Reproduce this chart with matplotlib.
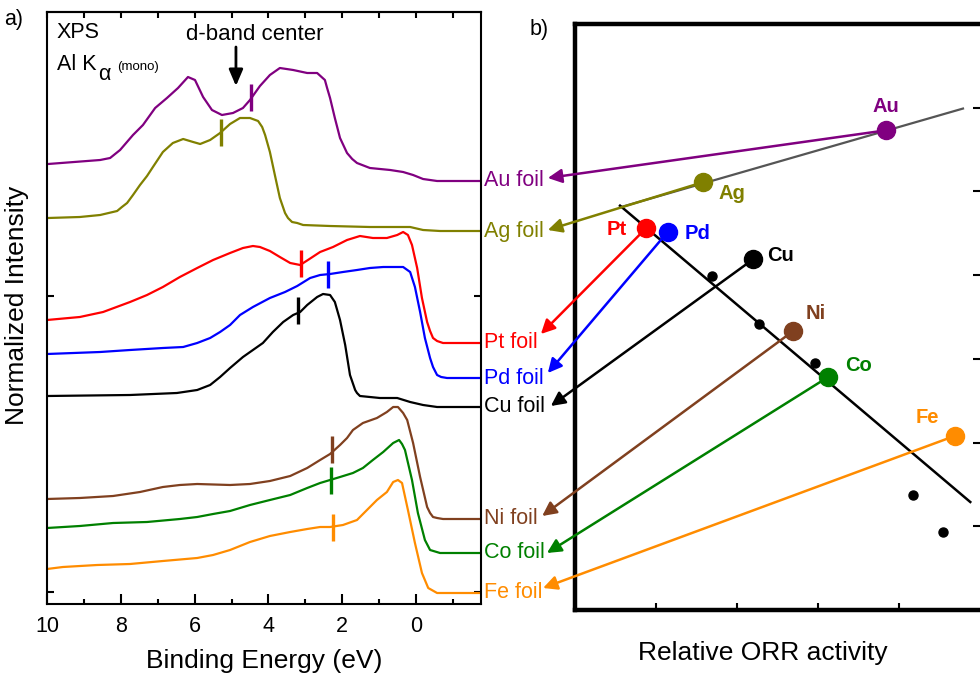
import matplotlib
matplotlib.use('Agg')
import matplotlib.pyplot as plt
from matplotlib.ticker import MultipleLocator
from matplotlib.transforms import blended_transform_factory

plt.rcParams['font.family'] = ['Liberation Sans', 'DejaVu Sans']

# ---- panel a: valence band spectra, binding energy (eV) vs offset intensity (a.u.)
au_e = [9.97, 8.56, 8.29, 8.02, 7.67, 7.40, 7.07, 6.75, 6.45, 6.18, 5.99, 5.77, 5.53, 5.26, 4.96, 4.69, 4.50,
        4.23, 3.96, 3.69, 3.33, 2.95, 2.68, 2.47, 2.41, 2.33, 2.20, 2.06, 1.87, 1.73, 1.60, 1.25, 0.70, 0.35,
        0.08, -0.19, -0.57, -1.76]
au_i = [440, 444, 446, 454, 469, 479, 496, 506, 516, 527, 524, 507, 494, 489, 491, 496, 504,
        518, 529, 536, 534, 531, 531, 524, 516, 506, 486, 466, 451, 445, 441, 436, 434, 432,
        429, 425, 423, 423]

ag_e = [9.97, 9.11, 8.56, 8.10, 7.97, 7.83, 7.67, 7.48, 7.29, 7.13, 6.86, 6.59, 6.31, 6.04, 5.85, 5.58, 5.31,
        5.04, 4.77, 4.50, 4.28, 4.17, 4.09, 3.96, 3.82, 3.69, 3.55, 3.47, 3.36, 3.22, 3.06, 2.33, 1.25, 0.51,
        0.16, -0.19, -0.65, -1.76]
ag_i = [386, 387, 389, 393, 397, 401, 409, 419, 428, 437, 452, 461, 465, 462, 460, 464, 471,
        480, 486, 486, 483, 477, 469, 452, 428, 406, 391, 386, 382, 381, 379, 378, 377, 377,
        377, 374, 373, 373]

pt_e = [10.00, 9.11, 8.48, 7.75, 7.29, 6.86, 6.40, 5.93, 5.50, 5.04, 4.69, 4.42, 4.23, 3.96, 3.69, 3.41, 3.14,
        2.93, 2.60, 2.25, 1.87, 1.52, 1.17, 0.79, 0.51, 0.35, 0.22, 0.11, -0.03, -0.16, -0.30, -0.38, -0.46,
        -0.57, -0.73, -1.76]
pt_i = [284, 287, 292, 302, 309, 317, 327, 336, 344, 351, 356, 358, 357, 353, 347, 341, 339,
        344, 352, 357, 364, 368, 366, 366, 369, 372, 369, 359, 336, 306, 282, 273, 266,
        263, 261, 261]

pd_e = [10.00, 8.56, 7.75, 6.86, 6.31, 5.93, 5.58, 5.31, 5.04, 4.77, 4.42, 3.96, 3.55, 3.22, 2.87, 2.60,
        2.33, 1.98, 1.60, 1.25, 0.89, 0.51, 0.35, 0.16, 0.03, -0.11, -0.24, -0.38, -0.46, -0.57, -0.68,
        -0.84, -1.76]
pd_i = [250, 252, 254, 256, 257, 261, 266, 272, 279, 289, 297, 306, 312, 318, 326, 329,
        330, 332, 334, 336, 337, 337, 337, 332, 317, 292, 266, 246, 237, 229, 227,
        226, 226]

cu_e = [10.00, 7.75, 6.48, 5.93, 5.58, 5.31, 5.04, 4.69, 4.42, 4.15, 3.88, 3.60, 3.33, 3.14, 2.95, 2.68,
        2.52, 2.33, 2.20, 2.06, 1.92, 1.79, 1.65, 1.60, 1.52, 0.98, 0.51, 0.16, -0.19, -0.57, -1.76]
cu_i = [208, 209, 211, 214, 219, 227, 236, 247, 254, 261, 272, 282, 289, 292, 299, 307,
        310, 309, 302, 284, 259, 229, 214, 211, 208, 206, 206, 202, 199, 197, 197]

ni_e = [10.00, 9.11, 8.21, 7.48, 6.86, 6.40, 5.93, 5.04, 4.50, 3.96, 3.41, 2.95, 2.60, 2.33, 2.06, 1.87,
        1.71, 1.44, 1.06, 0.79, 0.62, 0.49, 0.35, 0.24, 0.08, -0.11, -0.30, -0.38, -0.46, -0.57, -0.73, -1.76]
ni_i = [105, 106, 108, 112, 117, 119, 120, 119, 120, 123, 128, 136, 144, 150, 159, 166,
        174, 181, 186, 192, 197, 197, 191, 184, 161, 127, 97, 91, 87, 86, 85, 85]

co_e = [10.00, 9.11, 8.21, 7.29, 6.40, 5.93, 5.50, 5.04, 4.50, 3.96, 3.41, 2.95, 2.60, 2.33, 2.06,
        1.71, 1.44, 1.17, 0.89, 0.62, 0.46, 0.38, 0.30, 0.11, -0.05, -0.24, -0.38, -0.65, -1.76]
co_i = [76, 78, 81, 82, 85, 87, 90, 93, 99, 104, 109, 116, 121, 124, 127,
        131, 136, 144, 152, 161, 164, 160, 154, 124, 91, 64, 54, 51, 51]

fe_e = [10.00, 9.57, 8.64, 7.75, 6.86, 5.93, 5.50, 5.04, 4.50, 3.96, 3.41, 2.95, 2.60, 2.33, 1.98,
        1.60, 1.33, 1.06, 0.79, 0.62, 0.49, 0.38, 0.22, 0.03, -0.16, -0.33, -0.57, -1.76]
fe_i = [35, 37, 39, 40, 43, 46, 49, 54, 62, 68, 72, 75, 77, 77, 79,
        84, 94, 104, 112, 122, 124, 121, 94, 61, 31, 16, 11, 11]

metals = ['Au', 'Ag', 'Pt', 'Pd', 'Cu', 'Ni', 'Co', 'Fe']
colors = ['#800080', '#808000', '#ff0000', '#0000ff', '#000000', '#80401f', '#008000', '#ff8c00']
spectra = [(au_e, au_i), (ag_e, ag_i), (pt_e, pt_i), (pd_e, pd_i),
           (cu_e, cu_i), (ni_e, ni_i), (co_e, co_i), (fe_e, fe_i)]

# d-band centre markers
dband_e = [4.47, 5.28, 3.12, 2.38, 3.20, 2.28, 2.30, 2.25]
dband_i = [507, 472, 341, 330, 294, 155, 124, 77]

# ---- panel b: relative ORR activity vs d-band position
orr_x = [3.84, 1.58, 0.877, 1.148, 2.20, 2.69, 3.12, 4.69]
orr_y = [5.73, 5.11, 4.56, 4.52, 4.19, 3.33, 2.78, 2.08]
other_x = [1.69, 2.27, 2.96, 4.17, 4.54]
other_y = [3.99, 3.42, 2.95, 1.37, 0.93]
left_leg_x = [0.556, 4.79]
left_leg_y = [4.81, 5.99]
right_leg_x = [0.556, 4.88]
right_leg_y = [4.83, 1.29]

# where the arrows land next to the foil labels (x: left-axes fraction, y: intensity)
tip_x = [1.154, 1.154, 1.138, 1.154, 1.161, 1.141, 1.152, 1.143]
tip_y = [426, 374, 270, 231, 198, 88, 51, 16]
# element label offsets from the markers (points)
lab_off = [(0, 17), (21, -8), (-21, -1), (21.5, -1), (20, 3), (16.5, 13), (22, 8.5), (-19.5, 13.5)]

fig = plt.figure(figsize=(9.8, 6.75), dpi=100)
ax_l = fig.add_axes([47 / 980, 1 - 604 / 675, 434 / 980, 592 / 675])
ax_r = fig.add_axes([575 / 980, 1 - 610 / 675, 405 / 980, 586 / 675])

for (e, i), c in zip(spectra, colors):
    ax_l.plot(e, i, color=c, lw=1.6, solid_joinstyle='round')
for e, i, c in zip(dband_e, dband_i, colors):
    ax_l.plot([e, e], [i - 13.5, i + 13.5], color=c, lw=2.4, solid_capstyle='butt')

ax_l.set_xlim(10, -1.76)
ax_l.set_ylim(0, 592)
ax_l.xaxis.set_major_locator(MultipleLocator(2))
ax_l.xaxis.set_minor_locator(MultipleLocator(1))
ax_l.set_yticks([12, 308])
ax_l.set_yticklabels([])
ax_l.tick_params(which='both', direction='in', width=1.5, top=False, right=True, labelsize=15.5, pad=9)
ax_l.tick_params(which='major', length=7)
ax_l.tick_params(which='minor', length=3.5)
ax_l.tick_params(axis='y', length=5)
for s in ax_l.spines.values():
    s.set_linewidth(1.5)
top = ax_l.secondary_xaxis('top')
top.xaxis.set_major_locator(MultipleLocator(1))
top.tick_params(direction='in', length=4.5, width=1.5, labeltop=False)
top.spines['top'].set_linewidth(1.5)

lab_tr = blended_transform_factory(ax_l.transAxes, ax_l.transData)
for (e, i), m, c in zip(spectra, metals, colors):
    ax_l.text(1.007, i[-1], f'{m} foil', transform=lab_tr, color=c, fontsize=15.5,
              va='center', ha='left', clip_on=False)

ax_l.text(9.73, 571, 'XPS', fontsize=15.5, va='center', ha='left')
ax_l.text(9.73, 540, 'Al K', fontsize=15.5, va='center', ha='left')
ax_l.text(8.62, 530, '\u03b1', fontsize=15.5, va='center', ha='left')
ax_l.text(8.10, 537, '(mono)', fontsize=9.5, va='center', ha='left')
ax_l.text(4.36, 569, 'd-band center', fontsize=16, va='center', ha='center')
ax_l.annotate('', xy=(4.88, 518), xytext=(4.88, 557),
              arrowprops=dict(arrowstyle='-|>,head_length=0.7,head_width=0.3', color='black',
                              lw=2, mutation_scale=14, shrinkA=0, shrinkB=0))

fig.text(4 / 980, 1 - 20 / 675, 'a)', fontsize=15.5, va='center', ha='left')
fig.text(530 / 980, 1 - 30 / 675, 'b)', fontsize=15.5, va='center', ha='left')
fig.text(17 / 980, 1 - 305 / 675, 'Normalized Intensity', fontsize=19, rotation=90,
         va='center', ha='center')
fig.text(264 / 980, 1 - 661 / 675, 'Binding Energy (eV)', fontsize=19, va='center', ha='center')
fig.text(763 / 980, 1 - 653 / 675, 'Relative ORR activity', fontsize=19, va='center', ha='center')

# panel b
ax_r.plot(left_leg_x, left_leg_y, color='#555555', lw=1.6, zorder=2)
ax_r.plot(right_leg_x, right_leg_y, color='black', lw=1.8, zorder=2)
ax_r.plot(other_x, other_y, 'o', color='black', ms=6.5, zorder=2)
for k, (m, c) in enumerate(zip(metals, colors)):
    ax_r.annotate('', xy=(tip_x[k], tip_y[k]), xycoords=lab_tr,
                  xytext=(orr_x[k], orr_y[k]), textcoords='data',
                  arrowprops=dict(arrowstyle='-|>,head_length=0.6,head_width=0.3', color=c,
                                  lw=1.8, mutation_scale=14, shrinkA=0, shrinkB=0),
                  annotation_clip=False, zorder=3)
    ax_r.plot(orr_x[k], orr_y[k], 'o', color=c, ms=13, zorder=4)
    ax_r.annotate(m, xy=(orr_x[k], orr_y[k]), xytext=lab_off[k], textcoords='offset points',
                  color=c, fontsize=14.5, fontweight='bold', ha='center', va='center')

ax_r.set_xlim(0, 5)
ax_r.set_ylim(0, 7)
ax_r.set_xticks([1, 2, 3, 4])
ax_r.set_yticks([1, 2, 3, 4, 5, 6])
ax_r.tick_params(direction='in', length=5, width=1.5, left=False, right=True,
                 labelleft=False, labelbottom=False)
for s in ax_r.spines.values():
    s.set_linewidth(3.2)
ax_r.spines['right'].set_visible(False)

fig.savefig('out.png', dpi=100)
